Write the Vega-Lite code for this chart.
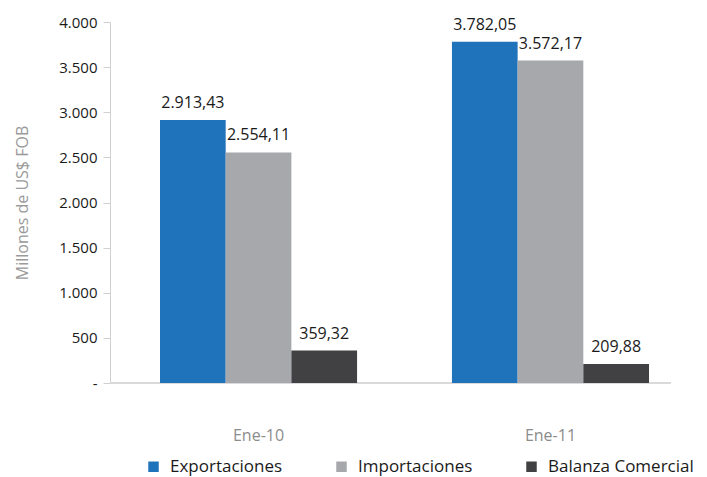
{
  "$schema": "https://vega.github.io/schema/vega-lite/v6.json",
  "width": 561,
  "height": 361,
  "autosize": "none",
  "padding": {"left": 110, "top": 22, "right": 36, "bottom": 94},
  "background": "white",
  "config": {
    "locale": {"number": {"decimal": ",", "thousands": ".", "grouping": [3], "currency": ["$", ""]}},
    "font": "Open Sans",
    "view": {"stroke": null}
  },
  "data": {
    "values": [
      {"periodo": "Ene-10", "serie": "Exportaciones", "valor": 2913.43},
      {"periodo": "Ene-10", "serie": "Importaciones", "valor": 2554.11},
      {"periodo": "Ene-10", "serie": "Balanza Comercial", "valor": 359.32},
      {"periodo": "Ene-11", "serie": "Exportaciones", "valor": 3782.05},
      {"periodo": "Ene-11", "serie": "Importaciones", "valor": 3572.17},
      {"periodo": "Ene-11", "serie": "Balanza Comercial", "valor": 209.88}
    ]
  },
  "encoding": {
    "x": {
      "field": "periodo", "type": "nominal",
      "scale": {"range": [50, 539], "paddingInner": 0.325, "paddingOuter": 0},
      "axis": {"title": null, "labelAngle": 0, "ticks": false, "domain": false, "labelColor": "#8c8c8c", "labelFontSize": 16, "labelPadding": 44}
    },
    "xOffset": {"field": "serie", "type": "nominal", "sort": ["Exportaciones", "Importaciones", "Balanza Comercial"], "scale": {"paddingInner": 0}},
    "y": {
      "field": "valor", "type": "quantitative",
      "scale": {"domain": [0, 4000]},
      "axis": {
        "title": "Millones de US$ FOB", "titleColor": "#9a9a9a", "titleFontSize": 16, "titleFontWeight": "normal", "titlePadding": 28,
        "values": [0, 500, 1000, 1500, 2000, 2500, 3000, 3500, 4000],
        "labelExpr": "datum.value == 0 ? '-' : format(datum.value, ',')",
        "grid": false, "domainColor": "#d0d0d0", "tickColor": "#d0d0d0", "tickSize": 7,
        "labelColor": "#1a1a1a", "labelFontSize": 15, "labelPadding": 6
      }
    }
  },
  "layer": [
    {
      "mark": {"type": "rule", "color": "#d9d9d9", "strokeWidth": 1},
      "encoding": {"x": null, "xOffset": null, "y": {"datum": 0}}
    },
    {
      "mark": {"type": "bar"},
      "encoding": {
        "color": {
          "field": "serie", "type": "nominal",
          "sort": ["Exportaciones", "Importaciones", "Balanza Comercial"],
          "scale": {"domain": ["Exportaciones", "Importaciones", "Balanza Comercial"], "range": ["#1f73ba", "#a7a8ab", "#414143"]},
          "legend": {
            "title": null, "orient": "none", "direction": "horizontal", "legendX": 35, "legendY": 436,
            "symbolType": "square", "symbolSize": 110, "symbolStrokeWidth": 0,
            "labelFontSize": 17, "labelColor": "#1a1a1a", "columnPadding": 50, "labelOffset": 8, "labelLimit": 300
          }
        }
      }
    },
    {
      "mark": {"type": "text", "baseline": "bottom", "dy": -9, "fontSize": 16, "color": "#1a1a1a"},
      "encoding": {
        "text": {"field": "valor", "type": "quantitative", "format": ",.2f"}
      }
    }
  ]
}
